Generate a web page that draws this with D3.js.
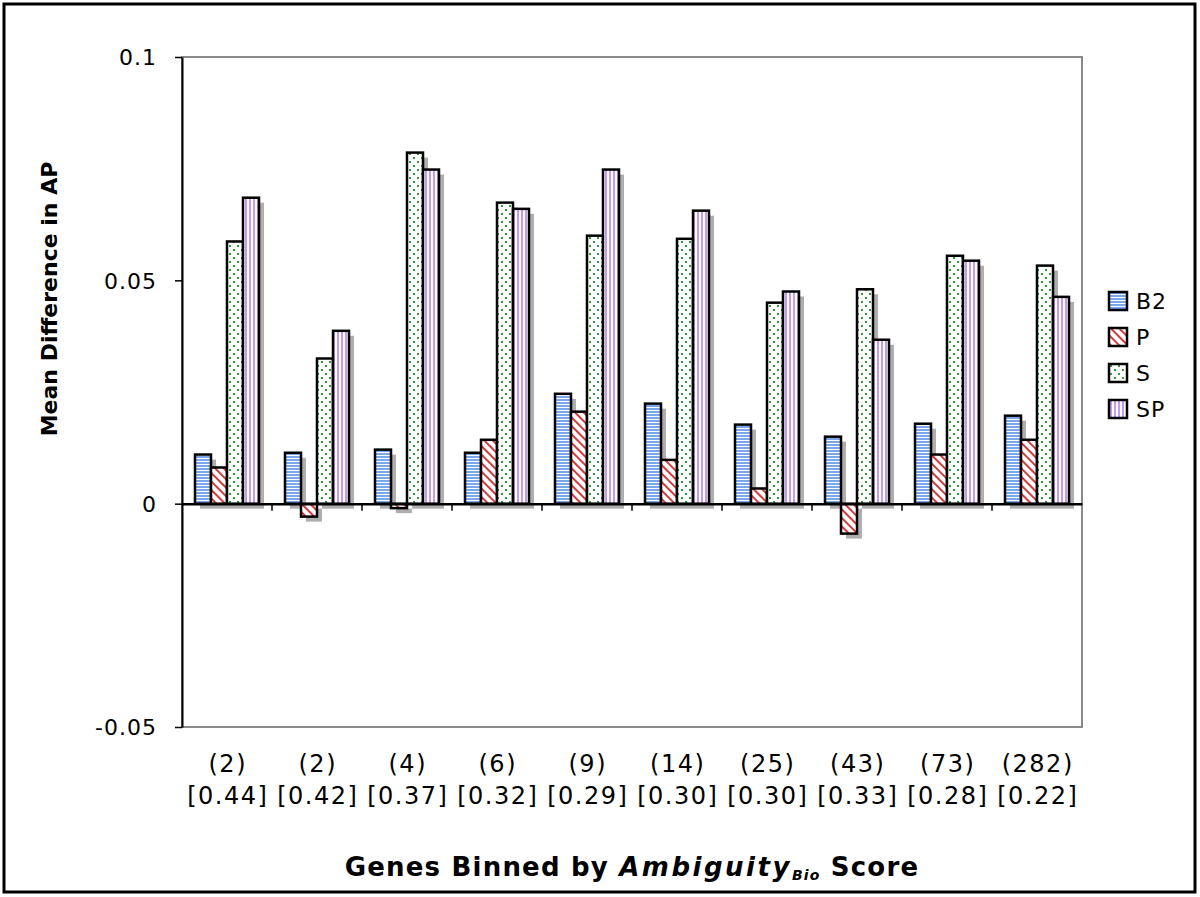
<!DOCTYPE html>
<html>
<head>
<meta charset="utf-8">
<script src="https://cdn.jsdelivr.net/npm/d3@7"></script>
<style>
  html, body { margin: 0; padding: 0; background: #fff; }
  svg { display: block; }
  text { font-family: "DejaVu Sans", Verdana, sans-serif; fill: #000; }
</style>
</head>
<body>
<svg id="chart" width="1200" height="897"></svg>
<script>
// ---- data ----
const counts = ["(2)", "(2)", "(4)", "(6)", "(9)", "(14)", "(25)", "(43)", "(73)", "(282)"];
const scores = ["[0.44]", "[0.42]", "[0.37]", "[0.32]", "[0.29]", "[0.30]", "[0.30]", "[0.33]", "[0.28]", "[0.22]"];
const seriesNames = ["B2", "P", "S", "SP"];
const B2 = [0.0110, 0.0114, 0.0121, 0.0114, 0.0246, 0.0224, 0.0177, 0.0150, 0.0179, 0.0197];
const P  = [0.0081, -0.0029, -0.0010, 0.0143, 0.0206, 0.0098, 0.0034, -0.0067, 0.0110, 0.0143];
const S  = [0.0587, 0.0325, 0.0786, 0.0674, 0.0600, 0.0593, 0.0450, 0.0480, 0.0555, 0.0533];
const SP = [0.0685, 0.0387, 0.0748, 0.0660, 0.0748, 0.0656, 0.0475, 0.0367, 0.0544, 0.0463];
const yTicks = [0.1, 0.05, 0, -0.05];
const yTickLabels = ["0.1", "0.05", "0", "-0.05"];

const seriesValues = [B2, P, S, SP];
const groups = counts.map((c, i) => i);

const svg = d3.select("#chart");
const defs = svg.append("defs");

// patterns
const pB2 = defs.append("pattern").attr("id", "pat-B2").attr("patternUnits", "userSpaceOnUse")
  .attr("width", 6).attr("height", 3);
pB2.append("rect").attr("width", 6).attr("height", 3).attr("fill", "#fff");
pB2.append("rect").attr("y", 0).attr("width", 6).attr("height", 2).attr("fill", "#7aa6ea");

const pP = defs.append("pattern").attr("id", "pat-P").attr("patternUnits", "userSpaceOnUse")
  .attr("width", 6).attr("height", 6).attr("patternTransform", "rotate(-45)");
pP.append("rect").attr("width", 6).attr("height", 6).attr("fill", "#fff");
pP.append("rect").attr("x", 0).attr("width", 2).attr("height", 6).attr("fill", "#d63a3c");

const pS = defs.append("pattern").attr("id", "pat-S").attr("patternUnits", "userSpaceOnUse")
  .attr("width", 8).attr("height", 8);
pS.append("rect").attr("width", 8).attr("height", 8).attr("fill", "#fff");
pS.append("rect").attr("x", 1).attr("y", 1).attr("width", 2).attr("height", 2).attr("fill", "#2e9e3a");
pS.append("rect").attr("x", 5).attr("y", 5).attr("width", 2).attr("height", 2).attr("fill", "#2e9e3a");

const pSP = defs.append("pattern").attr("id", "pat-SP").attr("patternUnits", "userSpaceOnUse")
  .attr("width", 4).attr("height", 4);
pSP.append("rect").attr("width", 4).attr("height", 4).attr("fill", "#fff");
pSP.append("rect").attr("x", 1).attr("width", 2).attr("height", 4).attr("fill", "#c39cf2");

const fills = { B2: "url(#pat-B2)", P: "url(#pat-P)", S: "url(#pat-S)", SP: "url(#pat-SP)" };

// outer frame
svg.append("rect").attr("x", 4).attr("y", 4).attr("width", 1191).attr("height", 888)
  .attr("fill", "#fff").attr("stroke", "#000").attr("stroke-width", 3);

// scales
const plotL = 182, plotR = 1082, plotT = 57, plotB = 727;
const x0 = d3.scaleBand().domain(groups).range([plotL, plotR]).padding(0);
const x1 = d3.scaleBand().domain(seriesNames).range([13, x0.bandwidth() - 13]).padding(0);
const y = d3.scaleLinear().domain([-0.05, 0.1]).range([plotB, plotT]);

// plot-area border (grey)
svg.append("rect").attr("x", plotL).attr("y", plotT).attr("width", plotR - plotL).attr("height", plotB - plotT)
  .attr("fill", "#fff").attr("stroke", "#8a8a8a").attr("stroke-width", 2);

// data rows
const rows = [];
groups.forEach(g => seriesNames.forEach((s, si) => rows.push({ g, s, v: seriesValues[si][g] })));

// shadows
svg.append("g").selectAll("rect").data(rows).join("rect")
  .attr("x", d => x0(d.g) + x1(d.s) + 5)
  .attr("y", d => Math.min(y(d.v), y(0)) + 5)
  .attr("width", x1.bandwidth())
  .attr("height", d => Math.abs(y(d.v) - y(0)))
  .attr("fill", "#aeaeae");

// bars
svg.append("g").selectAll("rect").data(rows).join("rect")
  .attr("x", d => x0(d.g) + x1(d.s))
  .attr("y", d => Math.min(y(d.v), y(0)))
  .attr("width", x1.bandwidth())
  .attr("height", d => Math.abs(y(d.v) - y(0)))
  .attr("fill", d => fills[d.s])
  .attr("stroke", "#000").attr("stroke-width", 2.5);

// zero axis with category ticks
const xAxis = d3.axisBottom(x0).tickSizeOuter(0).tickSize(0).tickFormat("");
svg.append("g").attr("transform", `translate(0,${y(0)})`).call(xAxis)
  .call(g => g.select(".domain").attr("stroke", "#000").attr("stroke-width", 2.5));
svg.append("g").selectAll("line").data(groups.slice(1)).join("line")
  .attr("x1", d => x0(d)).attr("x2", d => x0(d))
  .attr("y1", y(0)).attr("y2", y(0) + 7)
  .attr("stroke", "#000").attr("stroke-width", 1.5);

// y axis
const yAxis = d3.axisLeft(y).tickValues(yTicks).tickSize(7).tickSizeOuter(0)
  .tickFormat((d, i) => yTickLabels[i]);
svg.append("g").attr("transform", `translate(${plotL},0)`).call(yAxis)
  .call(g => g.select(".domain").attr("stroke", "#000").attr("stroke-width", 2))
  .call(g => g.selectAll(".tick line").attr("stroke", "#000").attr("stroke-width", 1.5))
  .call(g => g.selectAll(".tick text").attr("x", -25).attr("dy", "0.36em")
    .style("font-family", "'DejaVu Sans', Verdana, sans-serif").style("font-size", "22px")
    .style("letter-spacing", "1px").attr("fill", "#000"));

// category labels
const catG = svg.append("g");
catG.selectAll("text.c").data(groups).join("text").attr("class", "c")
  .attr("x", d => x0(d) + x0.bandwidth() / 2 + 0.75).attr("y", 772)
  .attr("text-anchor", "middle").style("font-size", "24px").style("letter-spacing", "1.5px")
  .text(d => counts[d]);
catG.selectAll("text.s").data(groups).join("text").attr("class", "s")
  .attr("x", d => x0(d) + x0.bandwidth() / 2 + 0.75).attr("y", 804)
  .attr("text-anchor", "middle").style("font-size", "24px").style("letter-spacing", "1.5px")
  .text(d => scores[d]);

// y title
svg.append("text").attr("transform", "translate(57,299) rotate(-90)")
  .attr("text-anchor", "middle").style("font-size", "22px").style("font-weight", "bold")
  .text("Mean Difference in AP");

// x title
const xt = svg.append("text").attr("x", 632).attr("y", 876).attr("text-anchor", "middle")
  .style("font-size", "26px").style("font-weight", "bold").style("letter-spacing", "1.2px");
xt.append("tspan").text("Genes Binned by ");
xt.append("tspan").style("font-style", "italic").style("letter-spacing", "2.5px").text("Ambiguity");
xt.append("tspan").style("font-style", "italic").style("font-size", "14px").attr("dy", 4).text("Bio");
xt.append("tspan").attr("dy", -4).text(" Score");

// legend
const leg = svg.append("g").attr("transform", "translate(1109,292)");
const li = leg.selectAll("g").data(seriesNames).join("g")
  .attr("transform", (d, i) => `translate(0,${i * 36})`);
li.append("rect").attr("width", 18).attr("height", 18)
  .attr("fill", d => fills[d]).attr("stroke", "#000").attr("stroke-width", 2.5);
li.append("text").attr("x", 27).attr("y", 9).attr("dy", "0.36em")
  .style("font-size", "22px").style("letter-spacing", "1px").text(d => d);
</script>
</body>
</html>
